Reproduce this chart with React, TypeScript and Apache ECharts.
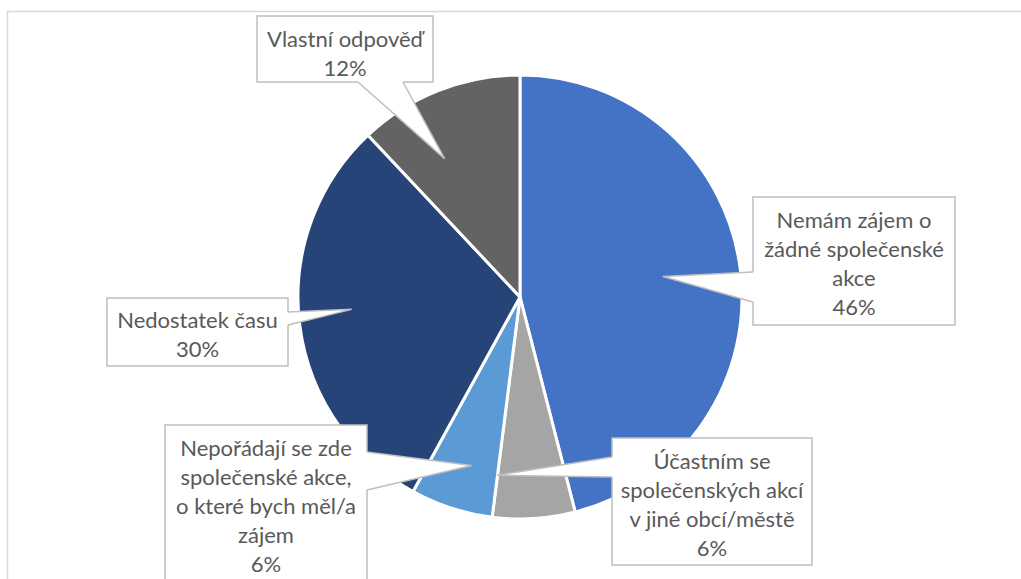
import React, { useEffect, useRef } from "react";
import * as echarts from "echarts";

const categories = [
  "Nemám zájem o žádné společenské akce",
  "Účastním se společenských akcí v jiné obcí/městě",
  "Nepořádají se zde společenské akce, o které bych měl/a zájem",
  "Nedostatek času",
  "Vlastní odpověď",
];
const values = [46, 6, 6, 30, 12];
const colors = ["#4472C4", "#A5A5A5", "#5B9BD5", "#264478", "#636363"];
const labelLines = [
  ["Nemám zájem o", "žádné společenské", "akce", "46%"],
  ["Účastním se", "společenských akcí", "v jiné obcí/městě", "6%"],
  ["Nepořádají se zde", "společenské akce,", "o které bych měl/a", "zájem", "6%"],
  ["Nedostatek času", "30%"],
  ["Vlastní odpověď", "12%"],
];

// callout layout: box [x, y, w, h], wedge base side & range, tip angle offset, tip radius fraction
const CX = 520;
const CY = 297;
const R = 222;
const boxes = [
  { x: 753, y: 197, w: 202, h: 128, side: "left", b0: 272, b1: 302, off: -1, frac: 0.65 },
  { x: 612, y: 438, w: 200, h: 127, side: "left", b0: 457, b1: 477, off: 11, frac: 0.81 },
  { x: 165, y: 425, w: 202, h: 170, side: "right", b0: 452, b1: 490, off: -2, frac: 0.79 },
  { x: 107, y: 298, w: 181, h: 68, side: "right", b0: 312, b1: 325, off: 3, frac: 0.76 },
  { x: 257, y: 16, w: 176, h: 66, side: "bottom", b0: 358, b1: 403, off: -7, frac: 0.71 },
];
const textCenters = [
  [854, 262.5],
  [712, 503.5],
  [266, 505],
  [197.5, 334],
  [345, 52.5],
];

export default function App() {
  const ref = useRef<HTMLDivElement>(null);
  useEffect(() => {
    if (!ref.current) return;
    const chart = echarts.init(ref.current, undefined, { renderer: "svg" });
    const total = values.reduce((a, b) => a + b, 0);
    let cum = 0;
    const graphics: any[] = [
      {
        type: "rect",
        shape: { x: 7.5, y: 11.5, width: 1100, height: 700 },
        style: { fill: "none", stroke: "#D9D9D9", lineWidth: 1.5 },
        z: 0,
        silent: true,
      },
    ];
    values.forEach((v, i) => {
      const mid = ((cum + v / 2) / total) * 360;
      cum += v;
      const b = boxes[i];
      const ang = ((mid + b.off) * Math.PI) / 180;
      const tip = [CX + R * b.frac * Math.sin(ang), CY - R * b.frac * Math.cos(ang)];
      let p0: number[], p1: number[], q0: number[], q1: number[];
      if (b.side === "left") {
        p0 = [b.x, b.b0];
        p1 = [b.x, b.b1];
        q0 = [b.x + 2, b.b0 + 0.5];
        q1 = [b.x + 2, b.b1 - 0.5];
      } else if (b.side === "right") {
        p0 = [b.x + b.w, b.b0];
        p1 = [b.x + b.w, b.b1];
        q0 = [b.x + b.w - 2, b.b0 + 0.5];
        q1 = [b.x + b.w - 2, b.b1 - 0.5];
      } else {
        p0 = [b.b0, b.y + b.h];
        p1 = [b.b1, b.y + b.h];
        q0 = [b.b0 + 0.5, b.y + b.h - 2];
        q1 = [b.b1 - 0.5, b.y + b.h - 2];
      }
      graphics.push({
        type: "rect",
        shape: { x: b.x, y: b.y, width: b.w, height: b.h },
        style: { fill: "#FFFFFF", stroke: "#BFBFBF", lineWidth: 1.5 },
        z: 100,
        silent: true,
      });
      graphics.push({
        type: "polygon",
        shape: { points: [q0, p0, tip, p1, q1] },
        style: { fill: "#FFFFFF", stroke: "none" },
        z: 101,
        silent: true,
      });
      graphics.push({
        type: "polyline",
        shape: { points: [p0, tip, p1] },
        style: { fill: "none", stroke: "#BFBFBF", lineWidth: 1.5 },
        z: 102,
        silent: true,
      });
      graphics.push({
        type: "text",
        x: textCenters[i][0],
        y: textCenters[i][1],
        style: {
          text: labelLines[i].join("\n"),
          fill: "#595959",
          font: "22px Lato",
          align: "center",
          verticalAlign: "middle",
          lineHeight: 29,
        },
        z: 103,
        silent: true,
      });
    });

    chart.setOption({
      animation: false,
      backgroundColor: "#FFFFFF",
      series: [
        {
          type: "pie",
          center: [CX, CY],
          radius: R,
          startAngle: 90,
          clockwise: true,
          label: { show: false },
          labelLine: { show: false },
          itemStyle: { borderColor: "#FFFFFF", borderWidth: 3 },
          data: categories.map((c, i) => ({
            name: c,
            value: values[i],
            itemStyle: { color: colors[i] },
          })),
        },
      ],
      graphic: graphics,
    });
    return () => chart.dispose();
  }, []);
  return (
    <div
      ref={ref}
      style={{ position: "absolute", left: 0, top: 0, width: 1021, height: 579 }}
    />
  );
}
